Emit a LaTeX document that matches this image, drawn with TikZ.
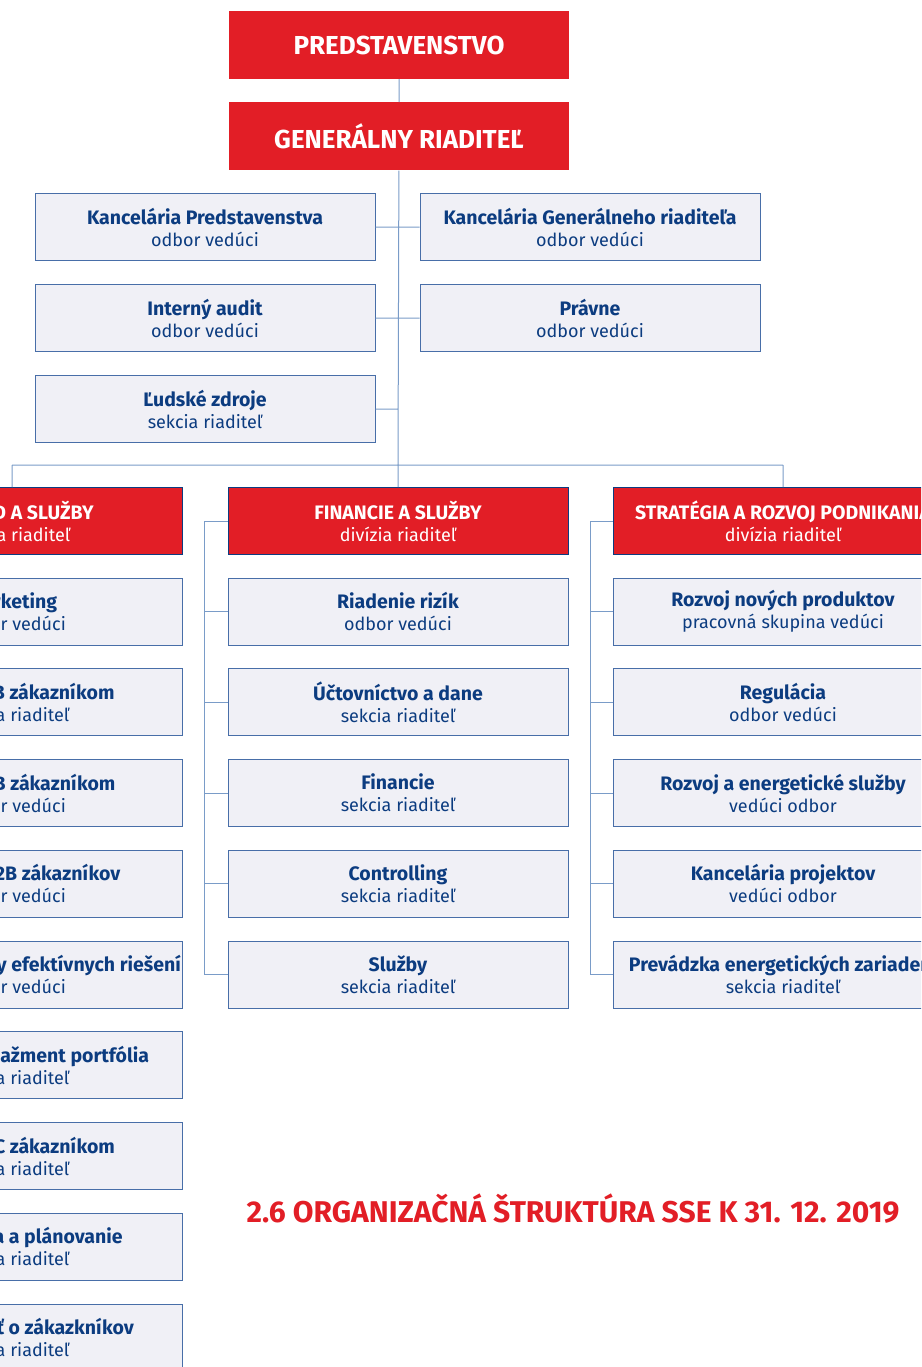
\documentclass[tikz,border=0pt]{standalone}
\usepackage{fontspec}
\setmainfont{Fira Sans}
\usetikzlibrary{positioning}
\definecolor{sseRed}{RGB}{226,30,38}
\definecolor{sseNavy}{RGB}{12,60,128}
\definecolor{sseFill}{RGB}{240,240,246}
\definecolor{sseFrame}{RGB}{72,110,168}
\definecolor{sseLine}{RGB}{122,156,200}
% bold first line of a box
\newcommand{\unithead}[1]{{\fontsize{19.5}{22}\selectfont\bfseries #1}}
\tikzset{
    topbox/.style={
           rectangle,
           fill=sseRed,
           text=white,
           minimum width=340pt, minimum height=68pt,
           font=\fontsize{26}{30}\selectfont\bfseries,
           },
    divbox/.style={
           rectangle,
           fill=sseRed,
           draw=sseNavy, line width=0.8pt,
           text=white,
           minimum width=340pt, minimum height=67pt,
           inner xsep=0pt,
           align=center,
           font=\fontsize{18}{22}\selectfont,
           },
    orgunit/.style={
           rectangle,
           fill=sseFill,
           draw=sseFrame, line width=1pt,
           text=sseNavy,
           minimum width=340pt, minimum height=67pt,
           inner xsep=0pt,
           align=center,
           font=\fontsize{18}{22}\selectfont,
           },
    link/.style={draw=sseLine, line width=1pt},
}

\begin{document}
\begin{tikzpicture}[x=1pt,y=-1pt]

 % page frame, the chart runs over the left and right edges
 \path[use as bounding box, fill=white] (0,0) rectangle (921,1367);
 \clip (0,0) rectangle (921,1367);

 % top management
 \node[topbox] (Predstavenstvo) at (399,45) {PREDSTAVENSTVO};
 \node[topbox, below=23pt of Predstavenstvo] (Generalny riaditel) {GENERÁLNY RIADITEĽ};

 % staff units of the general director
 \node[orgunit] (Kancelaria P) at (205,227)
  {\unithead{Kancelária Predstavenstva}\\odbor vedúci};
 \node[orgunit, below=23pt of Kancelaria P] (Audit)
  {\unithead{Interný audit}\\odbor vedúci};
 \node[orgunit, below=23pt of Audit] (Ludske zdroje)
  {\unithead{Ľudské zdroje}\\sekcia riaditeľ};
 \node[orgunit] (Kancelaria GR) at (590,227)
  {\unithead{Kancelária Generálneho riaditeľa}\\odbor vedúci};
 \node[orgunit, below=23pt of Kancelaria GR] (Pravne)
  {\unithead{Právne}\\odbor vedúci};

 % divisions
 \node[divbox] (Obchod) at (12,521)
  {\unithead{OBCHOD A SLUŽBY}\\divízia riaditeľ};
 \node[divbox] (Financie) at (398,521)
  {\unithead{FINANCIE A SLUŽBY}\\divízia riaditeľ};
 \node[divbox] (Strategia) at (783,521)
  {\unithead{STRATÉGIA A ROZVOJ PODNIKANIA}\\divízia riaditeľ};

 % OBCHOD A SLUŽBY
 \node[orgunit, below=22.75pt of Obchod] (Marketing)
  {\unithead{Marketing}\\odbor vedúci};
 \node[orgunit, below=22.75pt of Marketing] (Predaj B2B)
  {\unithead{Predaj B2B zákazníkom}\\sekcia riaditeľ};
 \node[orgunit, below=22.75pt of Predaj B2B] (Sluzby B2B)
  {\unithead{Služby B2B zákazníkom}\\odbor vedúci};
 \node[orgunit, below=22.75pt of Sluzby B2B] (Podpora B2B)
  {\unithead{Podpora B2B zákazníkov}\\odbor vedúci};
 \node[orgunit, below=22.75pt of Podpora B2B] (Riesenia)
  {\unithead{Odbyt energeticky efektívnych riešení}\\odbor vedúci};
 \node[orgunit, below=22.75pt of Riesenia] (Portfolio)
  {\unithead{Trading a manažment portfólia}\\sekcia riaditeľ};
 \node[orgunit, below=22.75pt of Portfolio] (Sluzby B2C)
  {\unithead{Služby B2C zákazníkom}\\sekcia riaditeľ};
 \node[orgunit, below=22.75pt of Sluzby B2C] (Planovanie)
  {\unithead{Cenotvorba a plánovanie}\\sekcia riaditeľ};
 \node[orgunit, below=22.75pt of Planovanie] (Starostlivost)
  {\unithead{Starostlivosť o zákazkníkov}\\sekcia riaditeľ};

 % FINANCIE A SLUŽBY
 \node[orgunit, below=22.75pt of Financie] (Rizika)
  {\unithead{Riadenie rizík}\\odbor vedúci};
 \node[orgunit, below=22.75pt of Rizika] (Uctovnictvo)
  {\unithead{Účtovníctvo a dane}\\sekcia riaditeľ};
 \node[orgunit, below=22.75pt of Uctovnictvo] (Financie sekcia)
  {\unithead{Financie}\\sekcia riaditeľ};
 \node[orgunit, below=22.75pt of Financie sekcia] (Controlling)
  {\unithead{Controlling}\\sekcia riaditeľ};
 \node[orgunit, below=22.75pt of Controlling] (Sluzby)
  {\unithead{Služby}\\sekcia riaditeľ};

 % STRATÉGIA A ROZVOJ PODNIKANIA
 \node[orgunit, below=22.75pt of Strategia] (Produkty)
  {\unithead{Rozvoj nových produktov}\\pracovná skupina vedúci};
 \node[orgunit, below=22.75pt of Produkty] (Regulacia)
  {\unithead{Regulácia}\\odbor vedúci};
 \node[orgunit, below=22.75pt of Regulacia] (Energeticke sluzby)
  {\unithead{Rozvoj a energetické služby}\\vedúci odbor};
 \node[orgunit, below=22.75pt of Energeticke sluzby] (Projekty)
  {\unithead{Kancelária projektov}\\vedúci odbor};
 \node[orgunit, below=22.75pt of Projekty] (Prevadzka)
  {\unithead{Prevádzka energetických zariadení}\\sekcia riaditeľ};

 % title
 \node[text=sseRed, font=\fontsize{30}{34}\selectfont\bfseries] (Titulok) at (573,1209)
  {2.6 ORGANIZAČNÁ ŠTRUKTÚRA SSE K 31. 12. 2019};

 % connectors
 \coordinate (Bus) at (398,465);
 \path[link] (Predstavenstvo) -- (Generalny riaditel)
  (Generalny riaditel) -- (Bus)
  (Kancelaria P) -- (Kancelaria GR)
  (Audit) -- (Pravne)
  (Ludske zdroje.east) -- (Ludske zdroje.east -| Bus)
  (Bus -| Obchod) -- (Bus -| Strategia)
  (Bus -| Obchod) -- (Obchod)
  (Bus -| Strategia) -- (Strategia)
  (Bus) -- (Financie);

 % side rails of the divisions
 \path[link] (Obchod.west) -- ++(-23,0) |- (Starostlivost.west);
 \path[link] (Financie.west) -- ++(-23,0) |- (Sluzby.west);
 \path[link] (Strategia.west) -- ++(-22,0) |- (Prevadzka.west);
 \foreach \n in {Marketing,Predaj B2B,Sluzby B2B,Podpora B2B,Riesenia,Portfolio,Sluzby B2C,Planovanie}
  \path[link] (\n.west) -- ++(-23,0);
 \foreach \n in {Rizika,Uctovnictvo,Financie sekcia,Controlling}
  \path[link] (\n.west) -- ++(-23,0);
 \foreach \n in {Produkty,Regulacia,Energeticke sluzby,Projekty}
  \path[link] (\n.west) -- ++(-22,0);

\end{tikzpicture}
\end{document}
